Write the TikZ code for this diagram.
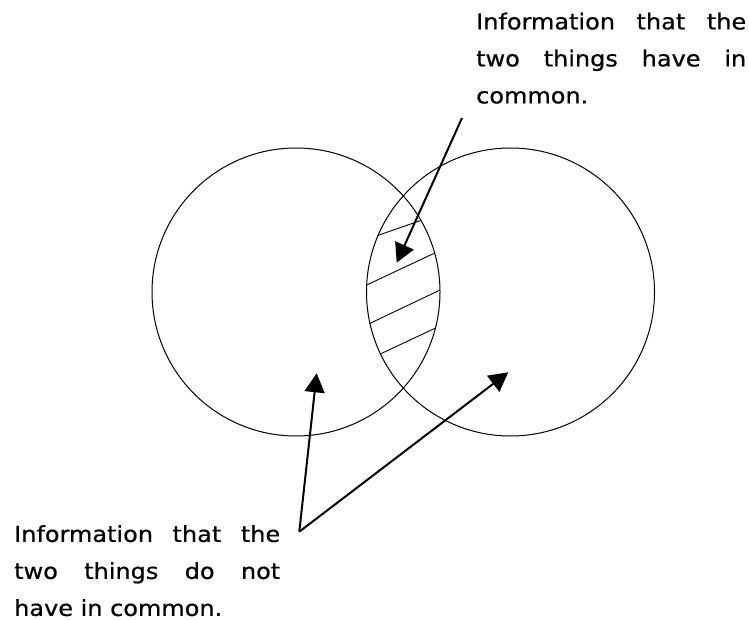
\documentclass[tikz,border=0pt]{standalone}
\usepackage{fontspec}
\setmainfont[FakeStretch=1.09,FakeBold=0.6]{DejaVu Sans}
\usetikzlibrary{arrows.meta}
\tikzset{
  venn/.style={circle, draw, line width=1pt, minimum size=288pt, inner sep=0pt},
  pointer/.style={line width=2pt, -{Triangle[length=19pt,width=20pt]}},
  hatch/.style={line width=0.9pt},
  label/.style={anchor=north west, inner sep=0pt, align=left, font=\fontsize{22}{37}\selectfont}
}
\begin{document}
\begin{tikzpicture}[x=1pt,y=-1pt]
\useasboundingbox (0,0) rectangle (749,620);
\node[venn] (L) at (296,292) {};
\node[venn] (R) at (510.5,292) {};
\begin{scope}
  \clip (296,292) circle (144);
  \clip (510.5,292) circle (144.5);
  \draw[hatch] (370,238.1) -- (426,218.7);
  \draw[hatch] (358,289.1) -- (442,249.6);
  \draw[hatch] (360,328.1) -- (448,286.2);
  \draw[hatch] (370,358.8) -- (445,323.6);
\end{scope}
\node[label] (top) at (476,12.5) {\makebox[270pt][s]{Information that the}\\\makebox[270pt][s]{two things have in}\\common.};
\node[label] (bot) at (14,525) {\makebox[266pt][s]{Information that the}\\\makebox[266pt][s]{two things do not}\\have in common.};
\coordinate (s1) at (462,118);
\coordinate (t1) at (396.7,262.7);
\coordinate (v) at (299.3,531.7);
\coordinate (t2) at (316.7,373.3);
\coordinate (t3) at (508.3,372.3);
\draw[pointer] (s1) -- (t1);
\draw[pointer] (v) -- (t2);
\draw[pointer] (v) -- (t3);
\end{tikzpicture}
\end{document}
